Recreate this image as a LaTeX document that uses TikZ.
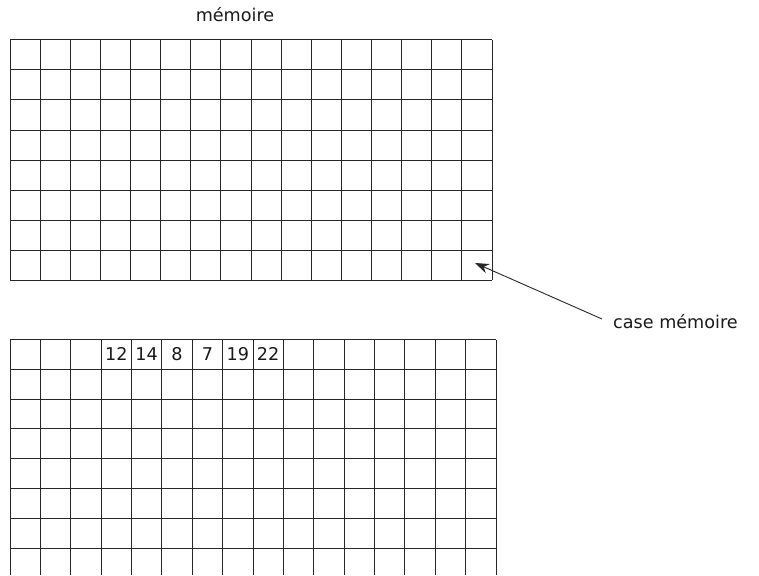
\documentclass[tikz,border=0pt]{standalone}
\usepackage{fontspec}
\setmainfont{DejaVu Sans}
\usetikzlibrary{arrows.meta}
\begin{document}
\begin{tikzpicture}[x=1pt,y=-1pt,
  gridline/.style={line width=1pt, black!85},
  lbl/.style={font=\fontsize{17.6}{20}\selectfont, inner sep=0pt, text=black!90},
  num/.style={font=\fontsize{17.6}{20}\selectfont, inner sep=0pt, text=black!90}]
\useasboundingbox (0,0) rectangle (759,575);
% top memory grid
\foreach \i in {0,...,16} \draw[gridline] ({10+\i*30.125},40) -- ({10+\i*30.125},280);
\foreach \j in {0,...,8} \draw[gridline] (10,{40+\j*30}) -- (492,{40+\j*30});
% bottom memory grid
\foreach \i in {0,...,16} \draw[gridline] ({10+\i*30.375},339.5) -- ({10+\i*30.375},575);
\foreach \j in {0,...,7} \draw[gridline] (10,{339.5+\j*29.8}) -- (496,{339.5+\j*29.8});
% labels
\node[lbl] (title) at (235,15) {mémoire};
\node[lbl, anchor=west] (case) at (613,322) {case mémoire};
\coordinate (tail) at (602,319);
\coordinate (tip) at (475,263);
\draw[line width=0.9pt, black!85, -{Stealth[length=14pt,width=10pt]}] (tail) -- (tip);
% values
\node[num] (v1) at ({10+3.5*30.375},354) {12};
\node[num] (v2) at ({10+4.5*30.375},354) {14};
\node[num] (v3) at ({10+5.5*30.375},354) {8};
\node[num] (v4) at ({10+6.5*30.375},354) {7};
\node[num] (v5) at ({10+7.5*30.375},354) {19};
\node[num] (v6) at ({10+8.5*30.375},354) {22};
\end{tikzpicture}
\end{document}
